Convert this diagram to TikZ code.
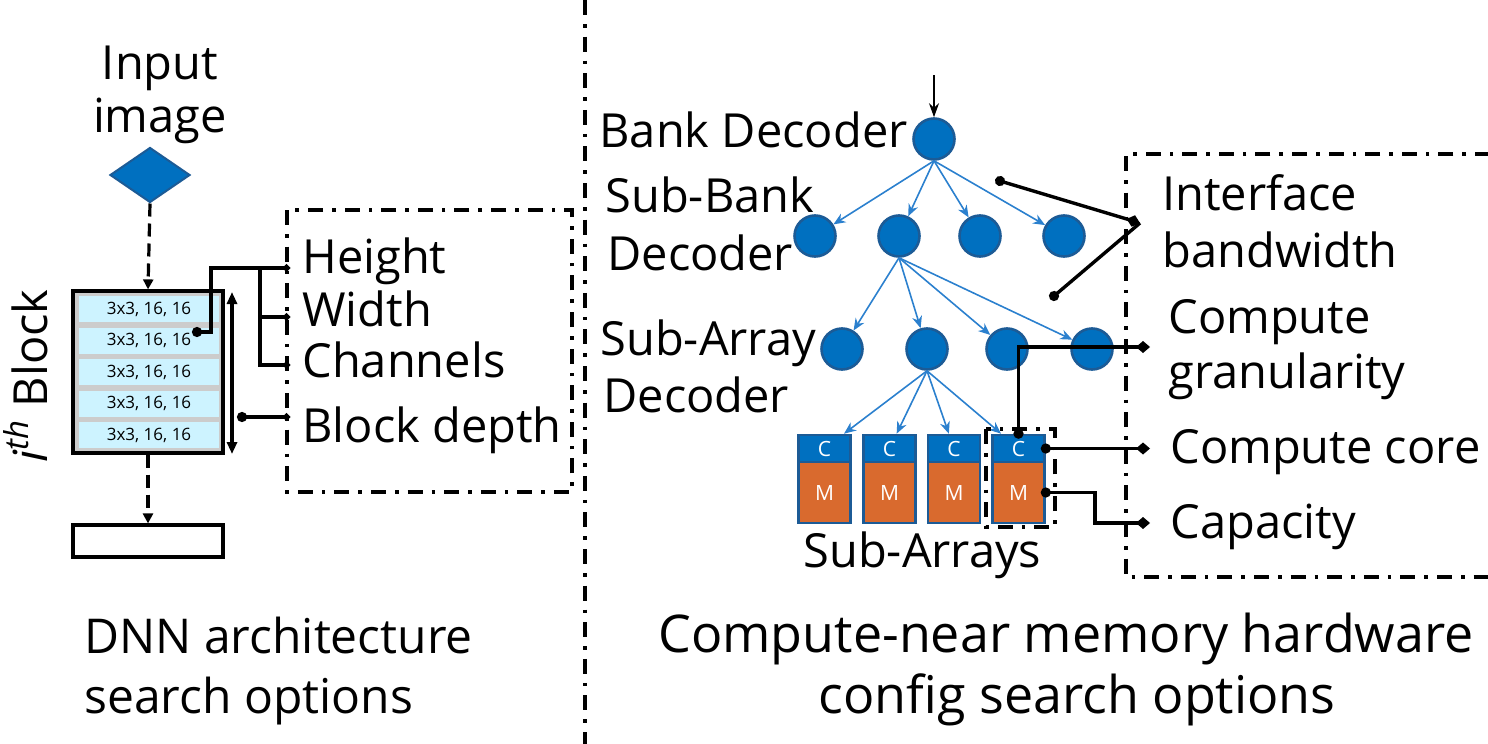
\documentclass[tikz,border=0pt]{standalone}
\usepackage{fontspec}
\setmainfont{Open Sans}
\usepackage{tikz}
\usetikzlibrary{arrows.meta, positioning, calc, shapes.geometric}
\definecolor{cnBlue}{HTML}{0070C0}
\definecolor{cnEdge}{HTML}{1C5B96}
\definecolor{cnOrange}{HTML}{D96A2E}
\definecolor{cnTree}{HTML}{2B80CE}
\definecolor{cnRow}{HTML}{CDF3FF}

\begin{document}
\begin{tikzpicture}[x=0.5pt, y=-0.5pt,
  lbl/.style={font=\fontsize{23.5}{28}\selectfont, inner sep=0pt},
  tiny/.style={font=\fontsize{8.5}{10}\selectfont, inner sep=0pt},
  dashdot/.style={line width=1.8pt, dash pattern=on 7.5pt off 4.5pt on 1.8pt off 4.5pt},
  dashflow/.style={line width=1.6pt, dash pattern=on 6.5pt off 3.5pt, -{Triangle[length=5pt,width=5pt]}},
  conn/.style={line width=1.7pt},
  lconn/.style={conn, {Circle[length=5pt]}-{Circle[length=3.5pt]}, shorten <=-2.5pt},
  rconn/.style={conn, {Circle[length=5pt]}-{Diamond[length=7pt,width=6pt]}, shorten <=-2.5pt},
  knob/.style={circle, fill=cnBlue, draw=cnEdge, line width=1.3pt, minimum size=20.5pt, inner sep=0pt},
  core/.style={fill=cnBlue, draw=cnEdge, line width=1.3pt, minimum width=26pt, minimum height=13.5pt, inner sep=0pt, text=white, font=\fontsize{10.5}{12}\selectfont},
  mem/.style={fill=cnOrange, draw=cnEdge, line width=1.3pt, minimum width=26pt, minimum height=30.5pt, inner sep=0pt, text=white, font=\fontsize{10.5}{12}\selectfont},
  tree/.style={cnTree, line width=0.8pt, -{Stealth[length=6pt,width=5pt]}}]
  \useasboundingbox (0,0) rectangle (1488,744);

  % DNN side
  \node[lbl, anchor=base] (inTop) at (160,79) {Input};
  \node[lbl, anchor=base] (inBot) at (160,132) {image};
  \node[diamond, fill=cnBlue, draw=cnEdge, line width=1pt, minimum width=40pt, minimum height=27.5pt, inner sep=0pt] (img) at (150,175) {};
  \node[draw, line width=1.6pt, fill=gray!40, minimum width=75pt, minimum height=81pt, inner sep=0pt] (blk) at (148,372) {};
  \foreach \k in {1,...,5}
    \node[fill=cnRow, minimum width=70pt, minimum height=13pt, tiny] (row\k) at (149,{277.5+31.5*\k}) {3x3, 16, 16};
  \node[draw, line width=1.6pt, fill=white, minimum width=75pt, minimum height=16pt, inner sep=0pt] (tail) at (148,541) {};
  \draw[dashflow] (img.south) -- (blk.north);
  \draw[dashflow] (blk.south) -- (tail.north);
  \coordinate (dTop) at (232,292);
  \coordinate (dBot) at (232,454);
  \draw[line width=1.6pt, {Triangle[length=6pt,width=5pt]}-{Triangle[length=6pt,width=5pt]}] (dTop) -- (dBot);
  \node[lbl, rotate=90, anchor=base] (blkLbl) at (47,376) {\textit{i}\textsuperscript{\textit{th}} Block};

  \draw[dashdot] (287,210) rectangle (572,492);
  \node[lbl, anchor=base west] (hgt) at (302,273) {Height};
  \node[lbl, anchor=base west] (wid) at (302,326) {Width};
  \node[lbl, anchor=base west] (chn) at (302,377) {Channels};
  \node[lbl, anchor=base west] (dep) at (302,442) {Block depth};

  \coordinate (pickR) at (197,332);
  \coordinate (kneeA) at (211,268);
  \coordinate (kneeB) at (260,268);
  \coordinate (kneeW) at (260,317);
  \coordinate (pH) at (290,268);
  \coordinate (pW) at (290,317);
  \coordinate (pC) at (290,365);
  \coordinate (pickD) at (242,417);
  \coordinate (pD) at (290,417);
  \draw[lconn] (pickR) -| (kneeA) -- (pH);
  \draw[conn, -{Circle[length=3.5pt]}] (kneeB) |- (pC);
  \draw[conn, -{Circle[length=3.5pt]}] (kneeW) -- (pW);
  \draw[lconn] (pickD) -- (pD);

  \node[lbl, anchor=base west, font=\fontsize{24}{28}\selectfont] (capL1) at (84,653) {DNN architecture};
  \node[lbl, anchor=base west, font=\fontsize{24}{28}\selectfont] (capL2) at (84,713) {search options};

  \draw[dashdot] (585,0) -- (585,744);

  % CNM side
  \node[knob] (b0) at (934,139) {};
  \foreach \x [count=\i] in {815,899,980,1064}
    \node[knob] (s\i) at (\x,236) {};
  \foreach \x [count=\i] in {842,927,1007,1092}
    \node[knob] (a\i) at (\x,349) {};
  \foreach \x [count=\i] in {824.5,889.5,954,1018.5}{
    \node[core] (c\i) at (\x,448.5) {C};
    \node[mem] (m\i) at (\x,492.5) {M};
  }
  \foreach \i in {1,...,4}{
    \draw[tree] (b0.south) -- (s\i);
    \draw[tree] (s2.south) -- (a\i);
    \draw[tree] (a2.south) -- (c\i);
  }
  \coordinate (feed) at (934,75);
  \draw[line width=1pt, -{Stealth[length=7pt,width=5pt]}] (feed) -- (b0.north);

  \node[lbl, anchor=base east] (bankL) at (908,147) {Bank Decoder};
  \node[lbl, anchor=base west] (sbL1) at (605,212) {Sub-Bank};
  \node[lbl, anchor=base west] (sbL2) at (607,270) {Decoder};
  \node[lbl, anchor=base west] (saL1) at (600,355) {Sub-Array};
  \node[lbl, anchor=base west] (saL2) at (603,412) {Decoder};
  \node[lbl, anchor=base west] (arrL) at (803,567) {Sub-Arrays};

  \draw[dashdot] (986,429) rectangle (1055,527);
  \draw[dashdot] (1490,154) -| (1126,577) -- (1490,577);

  \node[lbl, anchor=base west] (ifL1) at (1162,210) {Interface};
  \node[lbl, anchor=base west] (ifL2) at (1162,267) {bandwidth};
  \node[lbl, anchor=base west] (grL1) at (1168,333) {Compute};
  \node[lbl, anchor=base west] (grL2) at (1168,388) {granularity};
  \node[lbl, anchor=base west] (ccL) at (1170,463) {Compute core};
  \node[lbl, anchor=base west] (cpL) at (1170,538) {Capacity};

  \coordinate (ifA) at (1000,181);
  \coordinate (ifB) at (1054,296);
  \coordinate (ifHub) at (1140,223);
  \coordinate (pG) at (1150,347);
  \coordinate (pCC) at (1150,448.5);
  \coordinate (kCap) at (1095,523);
  \coordinate (pCap) at (1150,523);
  \draw[rconn] (ifA) -- (ifHub);
  \draw[conn, {Circle[length=5pt]}-, shorten <=-2.5pt] (ifB) -- (ifHub);
  \draw[rconn] (c4.north) |- (pG);
  \draw[rconn] (c4.east) -- (pCC);
  \draw[rconn] (m4.east) -| (kCap) -- (pCap);

  \node[lbl, anchor=base, font=\fontsize{26}{30}\selectfont] (capR1) at (1066,652) {Compute-near memory hardware};
  \node[lbl, anchor=base, font=\fontsize{26}{30}\selectfont] (capR2) at (1077,713) {config search options};
\end{tikzpicture}
\end{document}
